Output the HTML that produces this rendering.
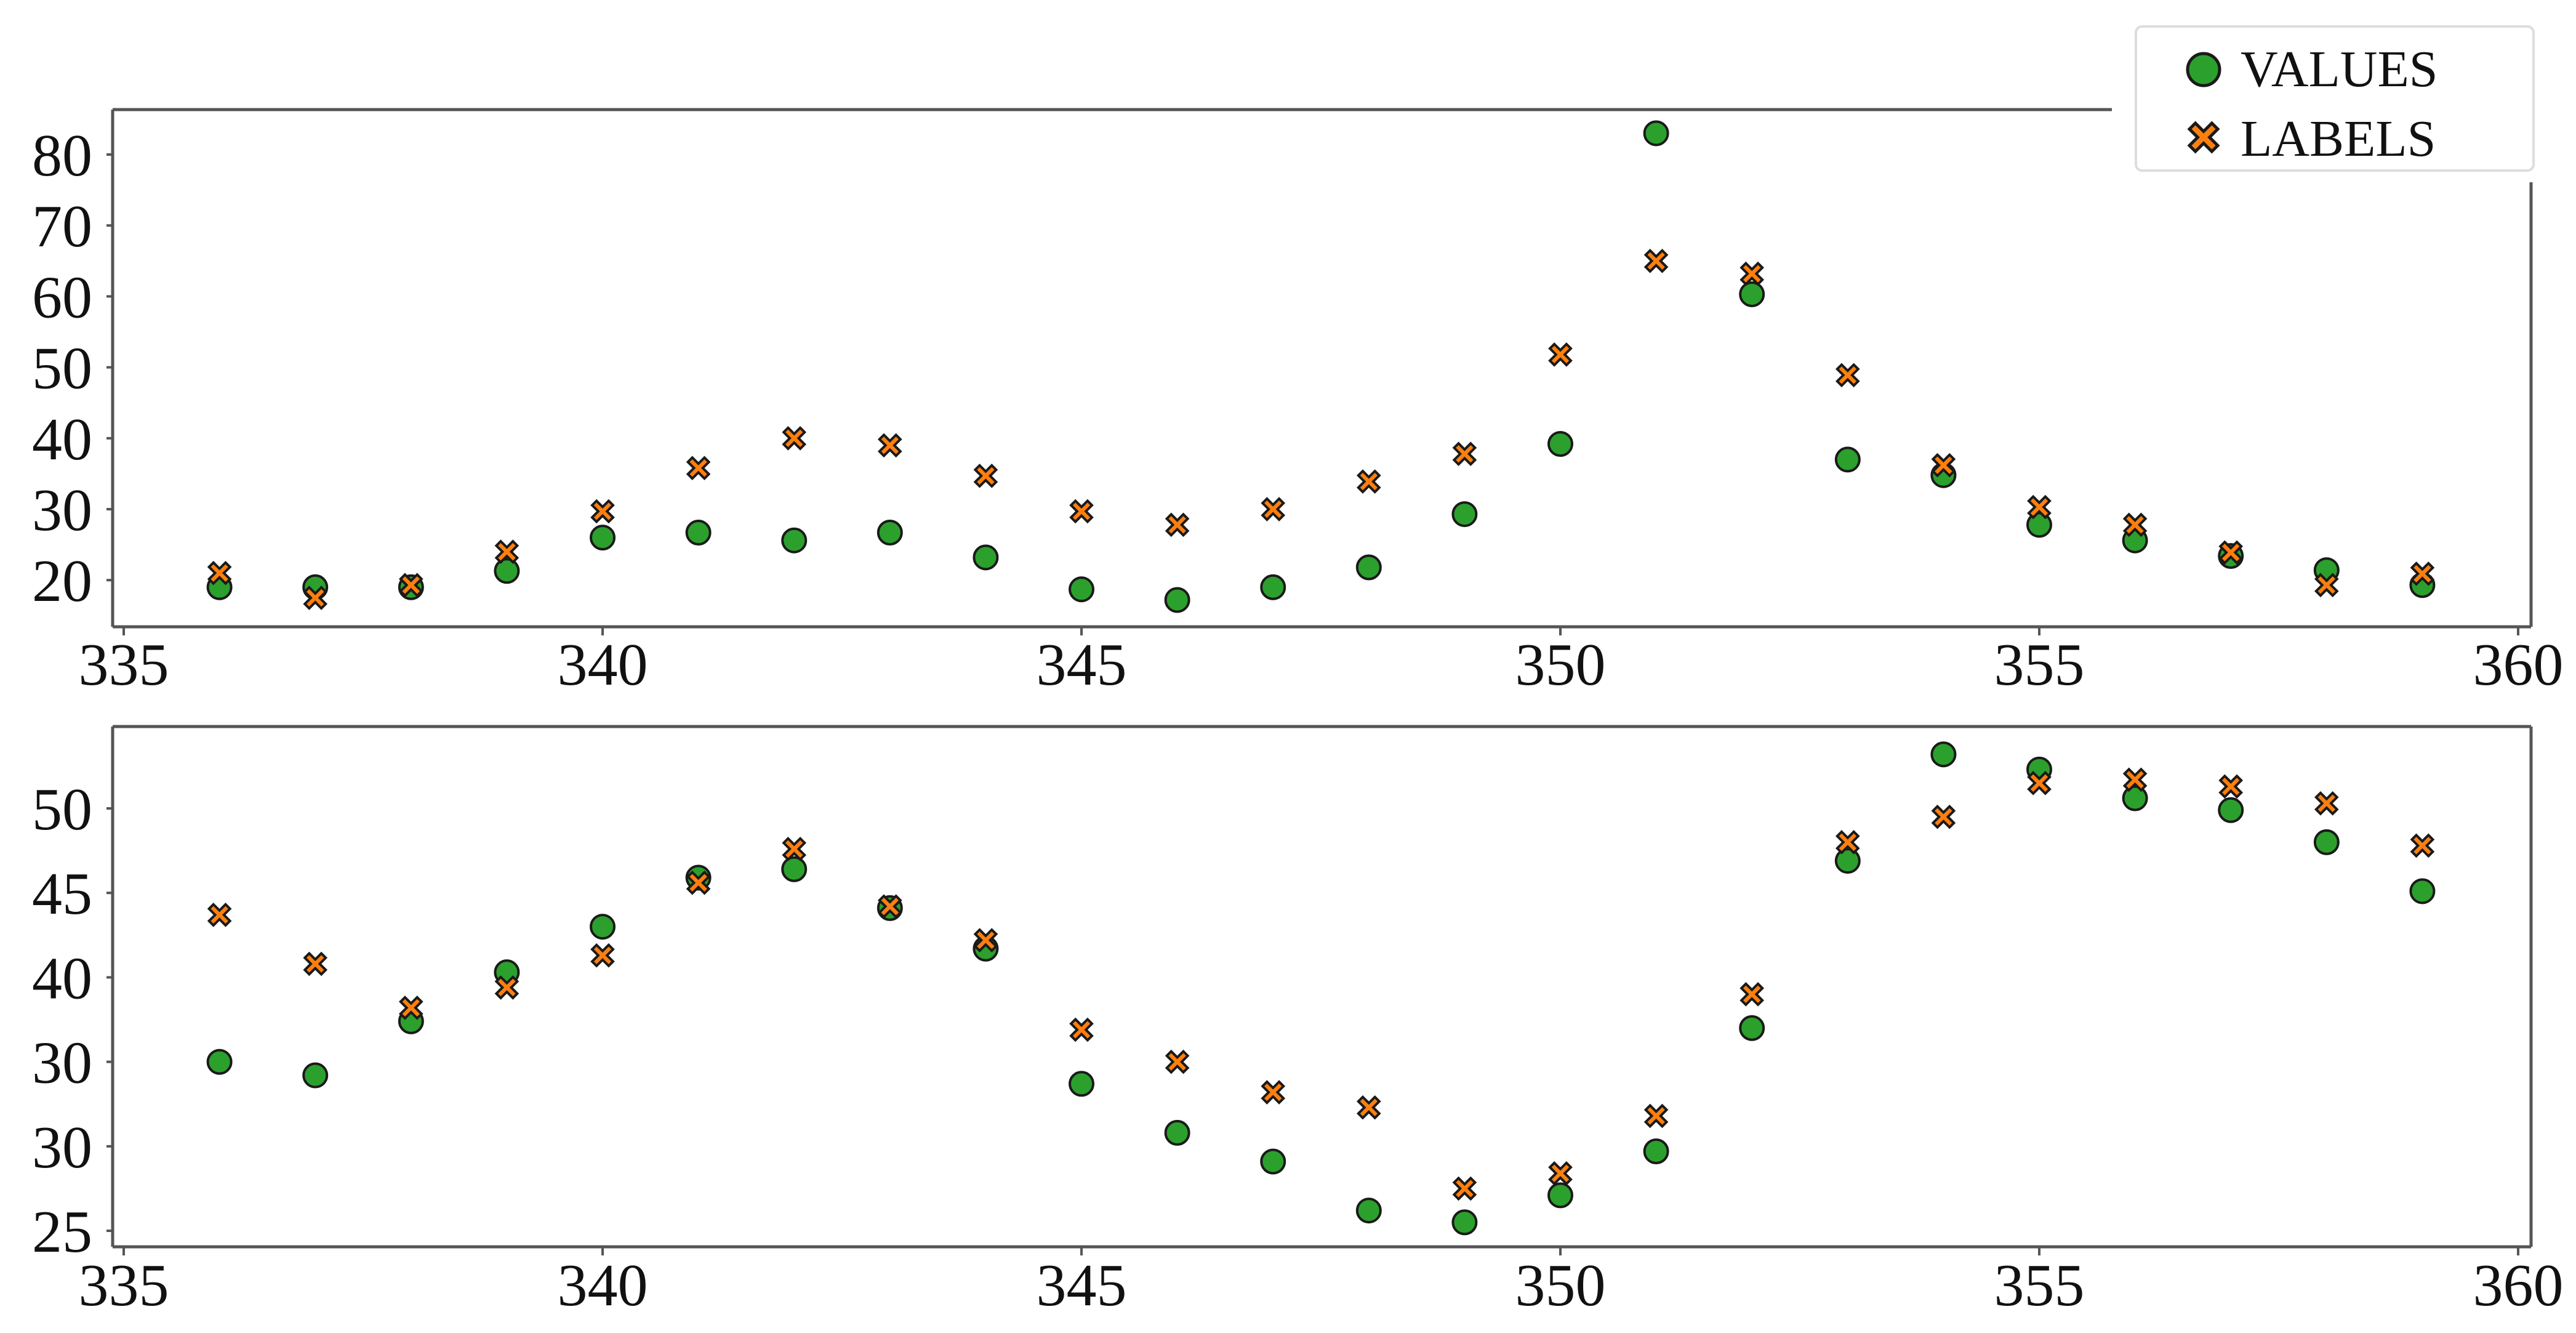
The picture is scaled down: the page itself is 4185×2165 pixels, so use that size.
<!DOCTYPE html>
<html><head><meta charset="utf-8"><style>
html,body{margin:0;padding:0;background:#fff;}
svg{display:block;font-family:"Liberation Serif","DejaVu Serif",serif;}
</style></head><body>
<svg id="chart" width="4185" height="2165" viewBox="0 0 4185 2165" xmlns="http://www.w3.org/2000/svg">
<rect width="4185" height="2165" fill="#fff"/>
<g id="top"></g>
<g id="bottom"></g>
<g id="legend">
  <rect x="3470" y="43" width="646" height="234" rx="10" fill="#fff" stroke="#ddd" stroke-width="4"/>
  <g>
    <circle cx="3580" cy="113" r="26" fill="#2ca02c" stroke="#1a1a1a" stroke-width="5"/>
    <text x="3640" y="140" font-size="84" fill="#111">VALUES</text>
  </g>
  <g>
    <path id="legx" d="" fill="#ff7f0e" stroke="#1a1a1a" stroke-width="5"/>
    <text x="3640" y="253" font-size="84" fill="#111">LABELS</text>
  </g>
</g>
</svg>
<script>
const xCats = [336,337,338,339,340,341,342,343,344,345,346,347,348,349,350,351,352,353,354,355,356,357,358,359];
const topValues = [19,19,19,21.3,26,26.7,25.6,26.7,23.2,18.7,17.2,19,21.8,29.3,39.2,83,60.3,37,34.8,27.8,25.6,23.4,21.4,19.3];
const topLabels = [21,17.5,19.3,24,29.7,35.8,40,39,34.7,29.7,27.8,30,33.9,37.8,51.8,65,63.2,48.9,36.2,30.3,27.8,23.9,19.3,20.9];
const botValues = [35,34.2,37.4,40.3,43,45.9,46.4,44.1,41.7,33.7,30.8,29.1,26.2,25.5,27.1,29.7,37,46.9,53.2,52.3,50.6,49.9,48,45.1];
const botLabels = [43.7,40.8,38.2,39.4,41.3,45.6,47.6,44.2,42.2,36.9,35,33.2,32.3,27.5,28.4,31.8,39,48,49.5,51.5,51.7,51.3,50.3,47.8];
const xTicks = [335,340,345,350,355,360];
const xTickLabels = ["335","340","345","350","355","360"];
const topYTicks = [20,30,40,50,60,70,80];
const topYTickLabels = ["20","30","40","50","60","70","80"];
const botYTicks = [25,30,35,40,45,50];
const botYTickLabels = ["25","30","30","40","45","50"];

const NS="http://www.w3.org/2000/svg";
function mk(tag, attrs, parent){const e=document.createElementNS(NS,tag);for(const k in attrs)e.setAttribute(k,attrs[k]);parent.appendChild(e);return e;}
const xScale = v => 201 + (v-335)*155.6;
function xPath(cx,cy,s){
  const a=s*0.42,b=s;
  return `M${cx-b+a} ${cy-b} L${cx} ${cy-a} L${cx+b-a} ${cy-b} L${cx+b} ${cy-b+a} L${cx+a} ${cy} L${cx+b} ${cy+b-a} L${cx+b-a} ${cy+b} L${cx} ${cy+a} L${cx-b+a} ${cy+b} L${cx-b} ${cy+b-a} L${cx-a} ${cy} L${cx-b} ${cy-b+a} Z`;
}
document.getElementById('legx').setAttribute('d', xPath(3580,223,23));

function panel(g, frame, yScale, yTicks, yLabels, vals, labs, xLabelY, clipTop){
  const fc="#555", fw=5;
  let l;
  l=mk('line',{x1:frame.l,y1:frame.b,x2:frame.r,y2:frame.b,stroke:fc,'stroke-width':fw},g);
  
  
  l=mk('line',{x1:frame.l,y1:frame.t,x2:frame.l,y2:frame.b,stroke:fc,'stroke-width':fw},g);
  
  
  l=mk('line',{x1:frame.l,y1:frame.t,x2:clipTop?3431:frame.r,y2:frame.t,stroke:fc,'stroke-width':fw},g);
  
  
  l=mk('line',{x1:frame.r,y1:clipTop?296:frame.t,x2:frame.r,y2:frame.b,stroke:fc,'stroke-width':fw},g);
  
  
  xTicks.forEach((t,i)=>{
    const x=xScale(t);
    const tk=mk('line',{x1:x,y1:frame.b,x2:x,y2:frame.b+14,stroke:fc,'stroke-width':4},g);
    
    
    const tx=mk('text',{x:x,y:xLabelY,'font-size':98,'text-anchor':'middle',fill:'#111'},g);
    tx.textContent=xTickLabels[i];
    
    
  });
  yTicks.forEach((t,i)=>{
    const y=yScale(t);
    const tk=mk('line',{x1:frame.l-10,y1:y,x2:frame.l,y2:y,stroke:fc,'stroke-width':4},g);
    
    
    const tx=mk('text',{x:150,y:y+34,'font-size':98,'text-anchor':'end',fill:'#111'},g);
    tx.textContent=yLabels[i];
    
    
  });
  xCats.forEach((c,i)=>{
    const cx=xScale(c);
    const ci=mk('circle',{cx:cx,cy:yScale(vals[i]),r:19,fill:'#2ca02c',stroke:'#1a1a1a','stroke-width':4},g);
    
    
  });
  xCats.forEach((c,i)=>{
    const cx=xScale(c);
    const p=mk('path',{d:xPath(cx,yScale(labs[i]),17),fill:'#ff7f0e',stroke:'#1a1a1a','stroke-width':4},g);
    
    
  });
}
const topY = v => 251 + (80-v)*11.52;
const botY = v => 1313 + (50-v)*27.44;
panel(document.getElementById('top'),{l:183,r:4112,t:178,b:1018},topY,topYTicks,topYTickLabels,topValues,topLabels,1112,true);
panel(document.getElementById('bottom'),{l:183,r:4112,t:1180,b:2025},botY,botYTicks,botYTickLabels,botValues,botLabels,2120,false);
</script>
</body></html>
